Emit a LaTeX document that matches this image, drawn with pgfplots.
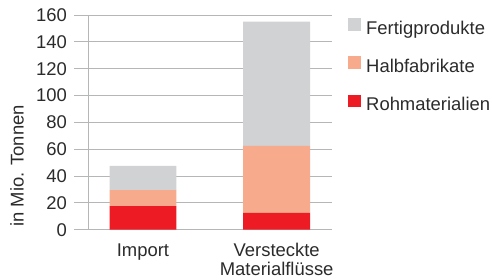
\documentclass[border=0pt]{standalone}
\usepackage{pgfplots}
\pgfplotsset{compat=1.18}
\usepackage{fontspec}
\setmainfont{Liberation Sans}
\definecolor{fert}{HTML}{D1D2D4}
\definecolor{halb}{HTML}{F8AA8C}
\definecolor{roh}{HTML}{ED1C24}
\definecolor{gridc}{HTML}{B5B6B8}
\definecolor{txt}{HTML}{2B2B2B}
\newcommand{\lf}{\fontsize{18.5}{19}\selectfont}
\begin{document}
\begin{tikzpicture}
\lf
\begin{axis}[
  scale only axis,
  width=258bp, height=214.7bp,
  xmin=-0.516, xmax=1.414,
  ymin=0, ymax=160,
  ybar stacked,
  bar width=0.5,
  xtick={0,1},
  xticklabels={Import,{Versteckte\\Materialflüsse}},
  ytick={0,20,...,160},
  axis line style={draw=none},
  major tick style={draw=none},
  ymajorgrids,
  grid style={gridc, line width=1bp},
  /pgf/number format/assume math mode=true,
  every tick label/.append style={font=\lf, text=txt},
  yticklabel style={inner sep=0pt, anchor=east, xshift=-7bp},
  xticklabel style={align=center, inner sep=0pt, anchor=north, yshift=-13.5bp},
  ylabel={in Mio. Tonnen},
  ylabel style={at={(axis description cs:-0.221,0.297)}, anchor=center, font=\lf, text=txt},
  reverse legend,
  legend cell align=left,
  legend style={draw=none, fill=none, at={(axis description cs:1.062,0.985)}, anchor=north west, inner sep=0pt, row sep=19.5bp, column sep=5bp, font=\lf, text=txt, nodes={inner sep=0pt, text=txt}},
  legend image code/.code={\fill[#1] (0bp,-2bp) rectangle (13bp,10.5bp);},
  clip=false,
]
\addplot[fill=roh, draw=none] coordinates {(0,17.5) (1,12.5)};
\addplot[fill=halb, draw=none] coordinates {(0,12) (1,50)};
\addplot[fill=fert, draw=none] coordinates {(0,18) (1,92.5)};
\legend{Rohmaterialien,Halbfabrikate,Fertigprodukte}
\draw[gridc, line width=1bp] (axis cs:-0.404,0) -- (axis cs:-0.404,160);
\coordinate (o) at (rel axis cs:0,0);
\end{axis}
\pgfresetboundingbox
\path (o) ++(-74bp,-50.3bp) rectangle ++(492bp,280bp);
\end{tikzpicture}
\end{document}
